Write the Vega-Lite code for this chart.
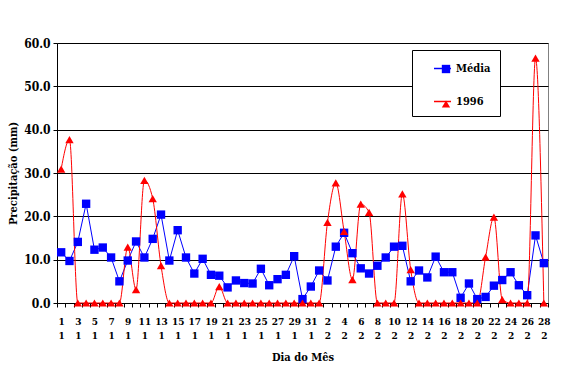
{
  "$schema": "https://vega.github.io/schema/vega-lite/v6.json",
  "width": 491,
  "height": 260,
  "autosize": "none",
  "padding": {"left": 57, "top": 43, "right": 36, "bottom": 67},
  "background": "white",
  "config": {
    "font": "DejaVu Serif Condensed",
    "view": {"stroke": "#808080", "strokeWidth": 1},
    "axis": {
      "labelFont": "DejaVu Serif Condensed",
      "labelFontSize": 11,
      "labelFontWeight": "bold",
      "labelColor": "black",
      "titleFont": "DejaVu Serif Condensed",
      "titleFontSize": 11,
      "titleFontWeight": "bold",
      "titleColor": "black",
      "domainColor": "black",
      "tickColor": "black",
      "tickSize": 4
    },
    "axisX": {"labelFontSize": 10},
    "axisY": {"labelFontSize": 12},
    "legend": {"labelFont": "DejaVu Serif Condensed", "titleFont": "DejaVu Serif Condensed"}
  },
  "data": {
    "values": [
      {"d": "1 1", "Média": 11.7, "1996": 30.9},
      {"d": "2 1", "Média": 9.7, "1996": 37.7},
      {"d": "3 1", "Média": 14.1, "1996": 0},
      {"d": "4 1", "Média": 22.9, "1996": 0},
      {"d": "5 1", "Média": 12.3, "1996": 0},
      {"d": "6 1", "Média": 12.8, "1996": 0},
      {"d": "7 1", "Média": 10.5, "1996": 0},
      {"d": "8 1", "Média": 5.0, "1996": 0},
      {"d": "9 1", "Média": 9.8, "1996": 12.9},
      {"d": "10 1", "Média": 14.2, "1996": 3.1},
      {"d": "11 1", "Média": 10.5, "1996": 28.3},
      {"d": "12 1", "Média": 14.8, "1996": 24.1},
      {"d": "13 1", "Média": 20.4, "1996": 8.6},
      {"d": "14 1", "Média": 9.8, "1996": 0},
      {"d": "15 1", "Média": 16.8, "1996": 0},
      {"d": "16 1", "Média": 10.5, "1996": 0},
      {"d": "17 1", "Média": 6.8, "1996": 0},
      {"d": "18 1", "Média": 10.2, "1996": 0},
      {"d": "19 1", "Média": 6.5, "1996": 0},
      {"d": "20 1", "Média": 6.3, "1996": 3.8},
      {"d": "21 1", "Média": 3.6, "1996": 0},
      {"d": "22 1", "Média": 5.2, "1996": 0},
      {"d": "23 1", "Média": 4.6, "1996": 0},
      {"d": "24 1", "Média": 4.5, "1996": 0},
      {"d": "25 1", "Média": 7.9, "1996": 0},
      {"d": "26 1", "Média": 4.1, "1996": 0},
      {"d": "27 1", "Média": 5.5, "1996": 0},
      {"d": "28 1", "Média": 6.5, "1996": 0},
      {"d": "29 1", "Média": 10.8, "1996": 0},
      {"d": "30 1", "Média": 0.9, "1996": 0},
      {"d": "31 1", "Média": 3.8, "1996": 0},
      {"d": "1 2", "Média": 7.5, "1996": 0},
      {"d": "2 2", "Média": 5.2, "1996": 18.6},
      {"d": "3 2", "Média": 13.0, "1996": 27.7},
      {"d": "4 2", "Média": 16.2, "1996": 16.5},
      {"d": "5 2", "Média": 11.5, "1996": 5.4},
      {"d": "6 2", "Média": 8.0, "1996": 22.8},
      {"d": "7 2", "Média": 6.8, "1996": 20.9},
      {"d": "8 2", "Média": 8.6, "1996": 0},
      {"d": "9 2", "Média": 10.5, "1996": 0},
      {"d": "10 2", "Média": 13.0, "1996": 0},
      {"d": "11 2", "Média": 13.2, "1996": 25.2},
      {"d": "12 2", "Média": 5.0, "1996": 7.7},
      {"d": "13 2", "Média": 7.5, "1996": 0},
      {"d": "14 2", "Média": 5.9, "1996": 0},
      {"d": "15 2", "Média": 10.7, "1996": 0},
      {"d": "16 2", "Média": 7.1, "1996": 0},
      {"d": "17 2", "Média": 7.1, "1996": 0},
      {"d": "18 2", "Média": 1.2, "1996": 0},
      {"d": "19 2", "Média": 4.5, "1996": 0},
      {"d": "20 2", "Média": 0.9, "1996": 0},
      {"d": "21 2", "Média": 1.4, "1996": 10.6},
      {"d": "22 2", "Média": 4.0, "1996": 19.8},
      {"d": "23 2", "Média": 5.3, "1996": 0.8},
      {"d": "24 2", "Média": 7.1, "1996": 0},
      {"d": "25 2", "Média": 4.1, "1996": 0},
      {"d": "26 2", "Média": 1.8, "1996": 0},
      {"d": "27 2", "Média": 15.6, "1996": 56.5},
      {"d": "28 2", "Média": 9.2, "1996": 0}
    ]
  },
  "transform": [{"fold": ["Média", "1996"], "as": ["serie", "v"]}],
  "encoding": {
    "x": {
      "field": "d",
      "type": "ordinal",
      "sort": null,
      "scale": {"paddingInner": 0, "paddingOuter": 0},
      "axis": {
        "title": "Dia do Mês",
        "labelAngle": 0,
        "labelOverlap": false,
        "labelBound": false,
        "labelLineHeight": 14,
        "labelPadding": 9,
        "labelBaseline": "top",
        "titlePadding": 11,
        "tickBand": "extent",
        "grid": false,
        "labelExpr": "(toNumber(split(datum.value,' ')[0]) + toNumber(split(datum.value,' ')[1])) % 2 == 0 ? split(datum.value,' ') : ''"
      }
    },
    "y": {
      "field": "v",
      "type": "quantitative",
      "scale": {"domain": [0, 60], "nice": false},
      "axis": {
        "title": "Precipitação (mm)",
        "values": [0, 10, 20, 30, 40, 50, 60],
        "format": ".1f",
        "grid": true,
        "gridColor": "black",
        "gridOpacity": 1,
        "gridWidth": 1,
        "labelPadding": 3,
        "titlePadding": 5
      }
    }
  },
  "layer": [
    {
      "transform": [{"filter": "datum.serie == 'Média'"}],
      "mark": {"type": "line", "strokeWidth": 1, "interpolate": "linear"},
      "encoding": {
        "stroke": {
          "field": "serie",
          "type": "nominal",
          "scale": {"domain": ["Média", "1996"], "range": ["#0000ff", "#ff0000"]},
          "legend": {
            "orient": "none",
            "legendX": 355,
            "legendY": 7,
            "title": " ",
            "titleOrient": "left",
            "titlePadding": 12,
            "titleFontSize": 11,
            "padding": 9,
            "strokeColor": "black",
            "fillColor": "white",
            "symbolType": "stroke",
            "symbolSize": 289,
            "symbolStrokeWidth": 1.5,
            "labelFontSize": 11,
            "labelFontWeight": "bold",
            "labelColor": "black",
            "labelOffset": 4,
            "rowPadding": 18,
            "labelExpr": "datum.label + '\u00a0\u00a0\u00a0\u00a0\u00a0\u00a0\u00a0'"
          }
        }
      }
    },
    {
      "transform": [{"filter": "datum.serie == '1996'"}],
      "mark": {"type": "line", "strokeWidth": 1, "interpolate": "monotone"},
      "encoding": {
        "stroke": {"field": "serie", "type": "nominal"}
      }
    },
    {
      "mark": {"type": "point", "filled": true, "size": 70, "opacity": 1},
      "encoding": {
        "fill": {
          "field": "serie",
          "type": "nominal",
          "sort": "descending",
          "scale": {"range": ["#0000ff", "#ff0000"]},
          "legend": {
            "orient": "none",
            "legendX": 383,
            "legendY": 20,
            "title": null,
            "padding": 0,
            "symbolSize": 70,
            "symbolStrokeWidth": 0,
            "labelFontSize": 12,
            "labelExpr": "''",
            "rowPadding": 23
          }
        },
        "shape": {
          "field": "serie",
          "type": "nominal",
          "sort": "descending",
          "scale": {"range": ["square", "triangle-up"]}
        }
      }
    }
  ]
}
